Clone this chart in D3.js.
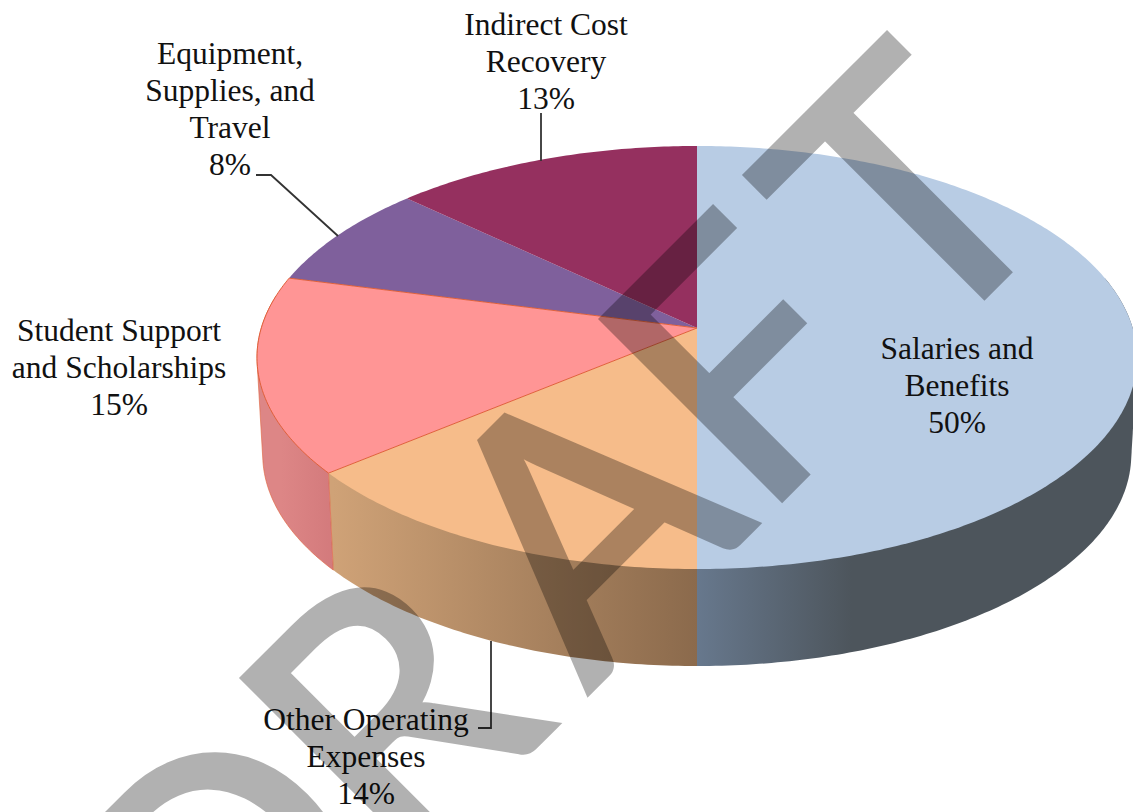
<!DOCTYPE html>
<html>
<head>
<meta charset="utf-8">
<script src="https://cdn.jsdelivr.net/npm/d3@7"></script>
<style>
    html, body { margin: 0; padding: 0; background: #fff; }
    svg { display: block; }
    text { font-family: "Liberation Serif", serif; fill: #111; }
</style>
</head>
<body>
<div id="chart"></div>
<script>
// values, clockwise from 12 o'clock
const categories = ["Salaries and Benefits", "Other Operating Expenses", "Student Support and Scholarships", "Equipment, Supplies, and Travel", "Indirect Cost Recovery"];
const shares = [50, 14, 15, 8, 13];
const labelLines = [
    ["Salaries and", "Benefits"],
    ["Other Operating", "Expenses"],
    ["Student Support", "and Scholarships"],
    ["Equipment,", "Supplies, and", "Travel"],
    ["Indirect Cost", "Recovery"]
];
const topColors = ["#b8cce4", "#f6bc8a", "#ff9595", "#7f609c", "#95305f"];
const wallStart = ["#67788d", "#cfa277", "#dd8686", "#6b5083", "#7d2850"];
const wallEnd = ["#4d555c", "#8b6a4c", "#d37a7c", "#6b5083", "#7d2850"];

const width = 1133, height = 812;
const cx = 697, cy = 328;

// the pie lies tilted, so the unit circle goes through a perspective projection
const persp = 0.1395, scaleX = 435.7, scaleY = 207.4;
const wallDepth = 97, wallShrink = 0.987;

function project(angle, depth) {
    let px = Math.sin(angle), py = -Math.cos(angle);
    let w = 1 - persp * py;
    let k = depth ? wallShrink : 1;
    return [cx + k * scaleX * px / w, cy + (depth || 0) + scaleY * py / w];
}

function arcPoints(a0, a1, depth) {
    let n = Math.max(2, Math.ceil((a1 - a0) * 80));
    return d3.range(n + 1).map(i => project(a0 + (a1 - a0) * i / n, depth));
}

let svg = d3.select("#chart").append("svg")
    .attr("width", width)
    .attr("height", height)
    .attr("viewBox", "0 0 " + width + " " + height);

let defs = svg.append("defs");
let line = d3.line();

let arcs = d3.pie().sort(null).value(d => d).startAngle(0).endAngle(2 * Math.PI)(shares);

// side walls, only the front half can be seen
let frontFrom = Math.PI * 0.42, frontTo = Math.PI * 1.55;
arcs.forEach(function (d, i) {
    let a0 = Math.max(d.startAngle, frontFrom), a1 = Math.min(d.endAngle, frontTo);
    if (a1 <= a0) return;

    let grad = defs.append("linearGradient")
        .attr("id", "wall" + i)
        .attr("gradientUnits", "userSpaceOnUse");
    if (i == 0) {
        grad.attr("x1", cx).attr("x2", cx + 155).attr("y1", 0).attr("y2", 0);
    } else {
        grad.attr("x1", project(a1, wallDepth)[0]).attr("x2", project(a0, wallDepth)[0]).attr("y1", 0).attr("y2", 0);
    }
    grad.append("stop").attr("offset", 0).attr("stop-color", wallStart[i]);
    grad.append("stop").attr("offset", 1).attr("stop-color", wallEnd[i]);

    // hull so the straight edge at the far left and right gets filled too
    let outline = d3.polygonHull(arcPoints(a0, a1, 0).concat(arcPoints(a0, a1, wallDepth)));
    svg.append("path")
        .attr("d", line(outline) + "Z")
        .attr("fill", "url(#wall" + i + ")")
        .attr("stroke", i == 2 ? "#e0603a" : "none")
        .attr("stroke-width", i == 2 ? 1 : 0)
        .attr("stroke-opacity", 0.6);
});

// top face, the pink slice has its own thin outline so it goes last
let order = [0, 1, 3, 4, 2];
order.forEach(function (i) {
    let d = arcs[i];
    let outline = [[cx, cy]].concat(arcPoints(d.startAngle, d.endAngle, 0));
    svg.append("path")
        .attr("d", line(outline) + "Z")
        .attr("fill", topColors[i])
        .attr("stroke", i == 2 ? "#e0603a" : "none")
        .attr("stroke-width", i == 2 ? 1 : 0);
});

// leader lines
let leaders = [
    [[541, 113], [541, 161]],
    [[256, 175], [271, 175], [338, 236]],
    [[491, 641], [491, 728], [478, 728]]
];
leaders.forEach(function (pts) {
    svg.append("path")
        .attr("d", line(pts))
        .attr("fill", "none")
        .attr("stroke", "#333")
        .attr("stroke-width", 1.8);
});

// labels
let labelPos = [
    {x: 957, y: 359},
    {x: 366, y: 730},
    {x: 119, y: 341},
    {x: 230, y: 64},
    {x: 546, y: 35}
];
let lineGap = 37;
arcs.forEach(function (d, i) {
    let lines = labelLines[i].concat([shares[i] + "%"]);
    svg.append("g").selectAll("text")
        .data(lines)
        .enter()
        .append("text")
        .attr("x", labelPos[i].x)
        .attr("y", (t, k) => labelPos[i].y + k * lineGap)
        .attr("text-anchor", "middle")
        .style("font-size", "31.5px")
        .text(t => t);
});

// watermark across everything, nudged letter by letter since the font is only close
svg.append("text")
    .attr("transform", "translate(191.5,1089.5) rotate(-45)")
    .attr("dx", "35 -35 18 -23 5")
    .style("font-family", "Lato, sans-serif")
    .style("font-size", "355px")
    .style("letter-spacing", "25px")
    .style("fill", "#000")
    .style("stroke", "#000")
    .style("stroke-width", 6)
    .style("stroke-linejoin", "miter")
    .style("opacity", 0.3)
    .text("DRAFT");
</script>
</body>
</html>
